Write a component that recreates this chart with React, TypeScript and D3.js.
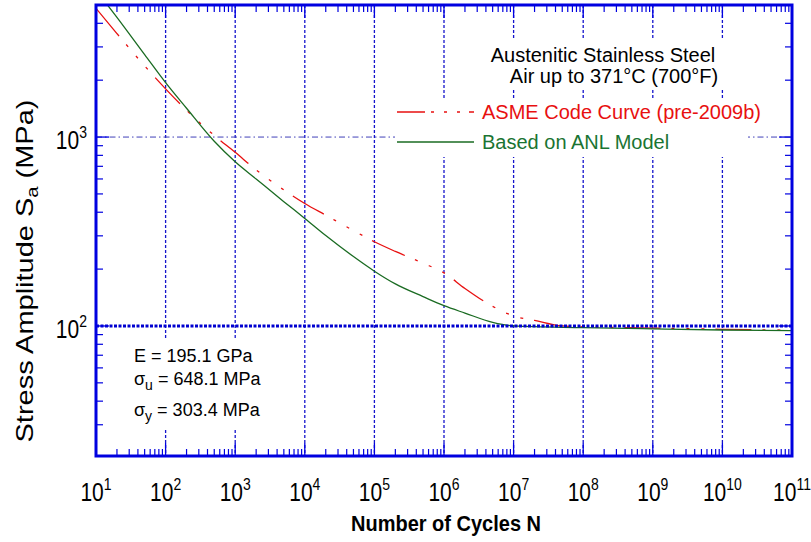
import React from 'react';
import * as d3 from 'd3';

const W = 811;
const H = 542;

// ASME Code Curve (pre-2009b) — cycles vs stress amplitude (MPa)
const asmeCycles = [10, 20, 50, 100, 200, 500, 1e3, 2e3, 5e3, 1e4, 2e4, 5e4, 1e5, 2e5, 5e5, 1e6, 2e6, 5e6, 1e7, 2e7, 5e7, 1e8, 1e9, 1e10, 1e11];
const asmeStress = [4800, 3530, 2380, 1800, 1386, 1020, 830, 670, 525, 445, 386, 320, 279, 248, 215, 191, 158, 127, 113, 107, 100, 99, 97.5, 96, 95];

// Based on ANL Model
const anlCycles = [10, 20, 50, 100, 200, 500, 1e3, 2e3, 5e3, 1e4, 2e4, 5e4, 1e5, 2e5, 5e5, 1e6, 2e6, 5e6, 1e7, 1e8, 1e9, 1e10, 1e11];
const anlStress = [6000, 4300, 2730, 1940, 1420, 950, 740, 600, 455, 371, 301, 233, 195, 167, 143, 128, 117, 104.5, 100, 98, 96.5, 95.2, 94.5];

const xExponents = [1, 2, 3, 4, 5, 6, 7, 8, 9, 10, 11];
const yExponents = [2, 3];
const xDomain = [10, 1e11];
const yDomain = [20.5, 5000];

const titleLines = ['Austenitic Stainless Steel', 'Air up to 371°C (700°F)'];
const legendLabels = ['ASME Code Curve (pre-2009b)', 'Based on ANL Model'];

const PL = 96, PR = 792, PT = 5, PB = 456;
const BLUE = '#0000e0';
const RED = '#e81010';
const GREEN = '#1a6b22';
const GREEN_TXT = '#1a7432';
const FONT = 'Liberation Sans, Arial, sans-serif';

export default function App() {
  const x = d3.scaleLog().domain(xDomain).range([PL, PR]);
  const y = d3.scaleLog().domain(yDomain).range([PB, PT]);

  const line = d3.line<[number, number]>()
    .x(d => x(d[0]))
    .y(d => y(d[1]))
    .curve(d3.curveMonotoneX);

  const asmePath = line(asmeCycles.map((c, i) => [c, asmeStress[i]] as [number, number])) || '';
  const anlPath = line(anlCycles.map((c, i) => [c, anlStress[i]] as [number, number])) || '';

  const xMinor: number[] = [];
  for (let e = 1; e < 11; e++) for (let m = 2; m <= 9; m++) xMinor.push(m * Math.pow(10, e));
  const yMinor: number[] = [];
  for (let e = 1; e <= 3; e++) for (let m = 2; m <= 9; m++) {
    const v = m * Math.pow(10, e);
    if (v > yDomain[0] && v < yDomain[1]) yMinor.push(v);
  }
  const xMajor = xExponents.map(e => Math.pow(10, e));
  const yMajor = yExponents.map(e => Math.pow(10, e));
  const vGrid = xExponents.slice(1, -1).map(e => Math.pow(10, e));

  const majLen = 13, minLen = 7;
  const asmeDash = '36,11,3,12,3,12,3,11';

  return (
    <svg width={W} height={H} style={{ position: 'absolute', left: 0, top: 0, background: '#fff' }} fontFamily={FONT}>
      <defs>
        <clipPath id="plotclip">
          <rect x={PL} y={PT} width={PR - PL} height={PB - PT} />
        </clipPath>
      </defs>
      <rect x={0} y={0} width={W} height={H} fill="#fff" />

      {/* vertical gridlines */}
      {vGrid.map((v, i) => (
        <line key={'vg' + i} x1={x(v)} x2={x(v)} y1={PT} y2={PB} stroke="#1414cc" strokeWidth={1.3} strokeDasharray="3,2" />
      ))}
      {/* 10^3 horizontal gridline */}
      <line x1={PL} x2={PR} y1={y(1000)} y2={y(1000)} stroke="#4040b8" strokeWidth={1} strokeDasharray="6,3,1.5,3" />

      {/* white boxes behind annotations */}
      <rect x={470} y={38} width={275} height={52} fill="#fff" />
      <rect x={395} y={98} width={353} height={59} fill="#fff" />
      <rect x={106} y={338} width={184} height={92} fill="#fff" />

      {/* curves */}
      <g clipPath="url(#plotclip)">
        <path d={asmePath} fill="none" stroke={RED} strokeWidth={1.3} strokeDasharray={asmeDash} />
        <path d={anlPath} fill="none" stroke={GREEN} strokeWidth={1.3} />
      </g>

      {/* 10^2 heavy dotted line */}
      <line x1={PL} x2={PR} y1={y(100)} y2={y(100)} stroke="#0000d0" strokeWidth={3} strokeDasharray="3,1.5" />

      {/* ticks */}
      {xMajor.map((v, i) => (
        <g key={'xM' + i}>
          <line x1={x(v)} x2={x(v)} y1={PB} y2={PB - majLen} stroke={BLUE} strokeWidth={1.3} />
          <line x1={x(v)} x2={x(v)} y1={PT} y2={PT + majLen} stroke={BLUE} strokeWidth={1.3} />
        </g>
      ))}
      {xMinor.map((v, i) => (
        <g key={'xm' + i}>
          <line x1={x(v)} x2={x(v)} y1={PB} y2={PB - minLen} stroke={BLUE} strokeWidth={1.2} />
          <line x1={x(v)} x2={x(v)} y1={PT} y2={PT + minLen} stroke={BLUE} strokeWidth={1.2} />
        </g>
      ))}
      {yMajor.map((v, i) => (
        <g key={'yM' + i}>
          <line x1={PL} x2={PL + majLen} y1={y(v)} y2={y(v)} stroke={BLUE} strokeWidth={1.3} />
          <line x1={PR} x2={PR - majLen} y1={y(v)} y2={y(v)} stroke={BLUE} strokeWidth={1.3} />
        </g>
      ))}
      {yMinor.map((v, i) => (
        <g key={'ym' + i}>
          <line x1={PL} x2={PL + minLen} y1={y(v)} y2={y(v)} stroke={BLUE} strokeWidth={1.2} />
          <line x1={PR} x2={PR - minLen} y1={y(v)} y2={y(v)} stroke={BLUE} strokeWidth={1.2} />
        </g>
      ))}

      {/* frame */}
      <rect x={PL} y={PT} width={PR - PL} height={PB - PT} fill="none" stroke={BLUE} strokeWidth={3} />

      {/* x tick labels */}
      {xExponents.map((e, i) => (
        <text key={'xl' + i} transform={`translate(${x(Math.pow(10, e))},501) scale(1,1.2)`} textAnchor="middle" fontSize={21} fill="#000">
          <tspan>10</tspan>
          <tspan dy={-9} fontSize={14}>{e}</tspan>
        </text>
      ))}
      {/* y tick labels */}
      {yExponents.map((e, i) => (
        <text key={'yl' + i} transform={`translate(87,${y(Math.pow(10, e)) + 12}) scale(1,1.2)`} textAnchor="end" fontSize={21} fill="#000">
          <tspan>10</tspan>
          <tspan dy={-9} fontSize={14}>{e}</tspan>
        </text>
      ))}

      {/* axis titles */}
      <text transform="translate(446,531) scale(1,1.1)" textAnchor="middle" fontSize={20} fontWeight="bold" fill="#000">Number of Cycles N</text>
      <text transform={`translate(33,271) rotate(-90) scale(1.26,1)`} textAnchor="middle" fontSize={23} fill="#000">
        <tspan>Stress Amplitude S</tspan>
        <tspan dy={5} fontSize={16}>a</tspan>
        <tspan dy={-5}> (MPa)</tspan>
      </text>

      {/* title annotation */}
      <text x={603} y={62} textAnchor="middle" fontSize={20} fill="#000">{titleLines[0]}</text>
      <text x={614} y={83} textAnchor="middle" fontSize={20} fill="#000">{titleLines[1]}</text>

      {/* legend */}
      <line x1={397} x2={474} y1={112} y2={112} stroke={RED} strokeWidth={1.3} strokeDasharray="28,6,3,10,3,10,3,9" />
      <text x={482} y={119} fontSize={20} fill={RED}>{legendLabels[0]}</text>
      <line x1={397} x2={474} y1={142} y2={142} stroke={GREEN} strokeWidth={1.3} />
      <text x={482} y={149} fontSize={20} fill={GREEN_TXT}>{legendLabels[1]}</text>

      {/* material properties */}
      <text x={134} y={362} fontSize={18} fill="#000">E = 195.1 GPa</text>
      <text x={134} y={385} fontSize={18} fill="#000">
        <tspan>σ</tspan>
        <tspan dy={5} fontSize={14}>u</tspan>
        <tspan dy={-5}> = 648.1 MPa</tspan>
      </text>
      <text x={134} y={416} fontSize={18} fill="#000">
        <tspan>σ</tspan>
        <tspan dy={5} fontSize={14}>y</tspan>
        <tspan dy={-5}> = 303.4 MPa</tspan>
      </text>
    </svg>
  );
}
